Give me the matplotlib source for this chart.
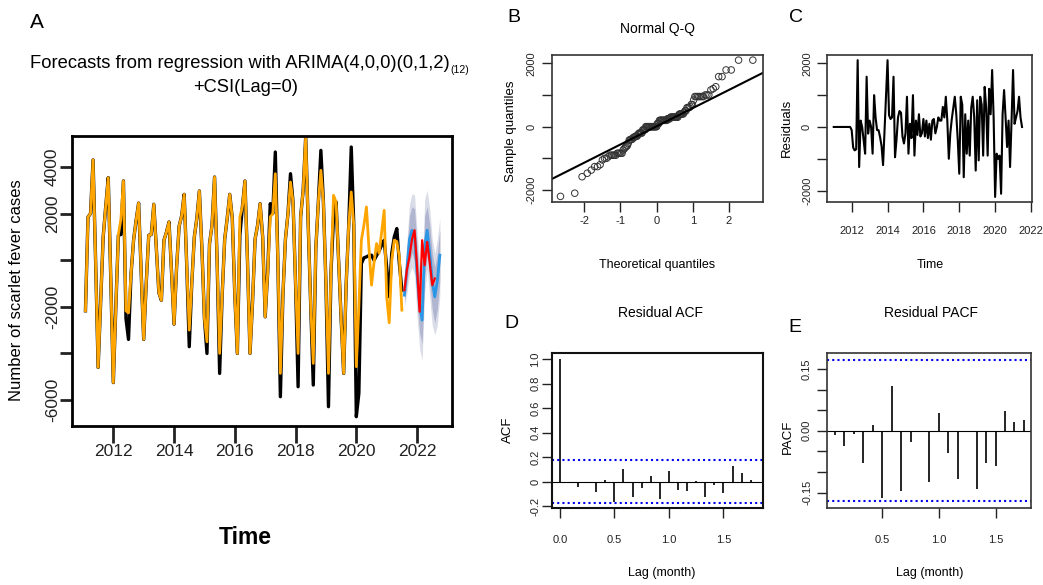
import numpy as np
import matplotlib.pyplot as plt
from statistics import NormalDist

plt.rcParams['font.family'] = ['Liberation Sans Narrow', 'Liberation Sans', 'DejaVu Sans']
plt.rcParams['axes.unicode_minus'] = False

# ---- data ----
start_a = 2011 + 1 / 12
fitted = [-2170, 1850, 2000, 4300, 0, -4600, -1800, 1000, 2300, 3540, -800, -5250,
          -2000, 1100, 1750, 3400, -2170, -2260, -600, 855, 1700, 2450, -500, -3400,
          -1000, 1070, 1100, 2400, 500, -1400, -1720, 855, 1200, 1640, -500, -2744,
          -300, 1455, 1900, 2826, -200, -3000, -1000, 1000, 1800, 2970, 500, -2500,
          -3500, 700, 1500, 3568, 0, -4000, -1500, 900, 1800, 2826, 1800, -1500,
          -4000, 1855, 2300, 3397, 0, -4000, -1800, 900, 1500, 2426, 1000, -2430,
          -500, 1855, 2000, 3711, 0, -4856, -1500, 900, 2000, 3354, 2500, -1000,
          -4000, 1855, 3000, 5282, 1500, -2000, -4428, 500, 2500, 3854, 2500, -1000,
          -4856, -500, 2783, 2500, 0, -2500, -4856, -1000, 1500, 2926, 1500, -4570,
          -2000, 857, 1500, 2284, 500, -1070, -100, 713, 300, 1200, 2141, -1570,
          -2684, 0, 857, 800, 143, -2141]
actual = [-2170, 1850, 2000, 4300, 0, -4600, -1800, 1000, 2300, 3540, -800, -5250,
          -2000, 1070, 1100, 3400, -2500, -3400, -600, 855, 1700, 2450, -500, -3400,
          -1000, 1070, 1100, 2400, 500, -1400, -1720, 855, 1200, 1640, -500, -2744,
          -300, 1455, 1900, 2826, -200, -3710, -1000, 1000, 1800, 2970, 500, -2500,
          -4000, 700, 1500, 3568, 0, -4856, -1500, 900, 1800, 2826, 1800, -1500,
          -4000, 1070, 2300, 3397, 0, -4000, -1800, 900, 1500, 2426, 1000, -2430,
          -500, 2426, 2000, 4640, 0, -5856, -1500, 900, 2000, 3711, 2500, -1000,
          -5428, 1855, 3000, 5282, 1500, -2000, -5356, 500, 2500, 4710, 2500, -1000,
          -6284, -500, 1855, 2500, 0, -2500, -4856, -1000, 1500, 4854, 1500, -6714,
          -5713, -143, 100, 143, 200, 214, 0, 200, 400, 643, 857, -300,
          -1570, 300, 1000, 1357, -143, -1285]

start_f = 2021 + 7 / 12
fc_mean = [-1500, -300, 900, 1285, 1100, -600, -1900, -2570, 600, 1285, 300, -900, -1570, -900, 214]
hi80 = [-1200, 400, 1900, 2300, 2200, 600, -700, -1300, 1900, 2300, 1500, 300, -300, 300, 1300]
lo80 = [-1800, -1000, -100, 300, 0, -1800, -3100, -3600, -700, 200, -900, -2100, -2700, -2100, -900]
hi95 = [-1000, 800, 2400, 2850, 2800, 1200, -100, -600, 2600, 3000, 2200, 900, 300, 900, 1800]
lo95 = [-2000, -1400, -600, -300, -600, -2400, -3800, -4300, -1400, -400, -1600, -2800, -3200, -2800, -1500]
test = [-1285, -400, 143, 900, 1285, -300, -2210, 857, -214, 785, -100, -1070, -785]

start_r = 2011
resid = [0, 0, 0, 0, 0, 0, 0, 0, 0, 0, 0, 0,
         -100, -650, -736, -700, 2100, -1260, 200, 0, -420, -840, 1580, -210,
         200, 0, -840, 1000, 300, -100, -100, -320, -600, -1200, -100, 1000,
         2100, 370, 250, 300, 1580, -950, -400, 300, 500, 450, -300, -520,
         -200, 950, -840, 100, -350, 1000, -900, 200, -250, 400, -300, -200,
         250, -300, 200, -350, 100, -400, 200, 250, -200, 0, 300, 200,
         200, 630, 300, 950, 200, -1000, -200, 250, 600, 950, 400, -420,
         -1470, 950, 700, -1580, 400, -840, 200, -900, 600, 950, 300, -1370,
         840, -1050, 950, 700, -900, 1260, 600, -900, 1200, 400, 1790, 300,
         -2200, -840, -1000, -900, -2100, 400, 1160, 300, -630, 200, -1260, 200,
         1790, 100, 300, 500, 950, 300, 0]

acf_vals = [1.0, -0.014, -0.047, -0.014, -0.088, 0.016, -0.17, 0.104, -0.129, -0.052, 0.044,
            -0.142, 0.085, -0.068, -0.079, 0.005, -0.129, -0.025, -0.096, 0.123, 0.071, 0.016]
pacf_vals = [-0.010, -0.036, -0.007, -0.078, 0.015, -0.163, 0.108, -0.146, -0.026, -0.004, -0.123,
             0.044, -0.053, -0.116, -0.004, -0.141, -0.078, -0.085, 0.047, 0.021, 0.027]

W, H = 1043, 585
fig = plt.figure(figsize=(W / 100, H / 100), dpi=100)


def box(l, t, r, b):
    return [l / W, 1 - b / H, (r - l) / W, (b - t) / H]


def ftxt(x, y, s, **kw):
    kw.setdefault('ha', 'center')
    kw.setdefault('va', 'center')
    return fig.text(x / W, 1 - y / H, s, **kw)


def style(ax, lw=1.2, col='#333333', tl=7, fs=8):
    for sp in ax.spines.values():
        sp.set_linewidth(lw)
        sp.set_color(col)
    ax.tick_params(direction='out', length=tl, width=1, labelsize=fs, colors='#222222')


# ---- A: forecast ----
ax = fig.add_axes(box(72, 136, 452, 426))
ta = start_a + np.arange(len(fitted)) / 12
tf = start_f + np.arange(len(fc_mean)) / 12
tt = start_f + np.arange(len(test)) / 12
ax.fill_between(tf, lo95, hi95, color='#DADCE8', lw=0)
ax.fill_between(tf, lo80, hi80, color='#B0B5D0', lw=0)
ax.plot(ta, actual, color='black', lw=2.4)
ax.plot(ta, fitted, color='#FFA500', lw=2.0)
ax.plot(tf, fc_mean, color='#2A96E6', lw=2.0)
ax.plot(tt, test, color='#FF0000', lw=1.6)
ax.set_xlim(2010.64, 2023.15)
ax.set_ylim(-7113, 5328)
ax.set_xticks([2012, 2014, 2016, 2018, 2020, 2022])
ax.set_yticks([4000, 2000, 0, -2000, -4000, -6000])
ax.set_yticklabels(['4000', '2000', '', '-2000', '', '-6000'], rotation=90, va='center')
style(ax, lw=2.0, col='black', tl=8.6, fs=12.5)
ax.tick_params(axis='x', length=12, width=2, pad=1)
ax.tick_params(axis='y', width=2, pad=0)

ftxt(37, 23, 'A', fontsize=15)
t1 = ftxt(30, 63, 'Forecasts from regression with ARIMA(4,0,0)(0,1,2)', ha='left', fontsize=13.2)
fig.canvas.draw()
bb = t1.get_window_extent()
fig.text(bb.x1 / W + 0.001, 1 - 70 / H, '(12)', fontsize=7.5, ha='left', va='center')
ftxt(246, 87, '+CSI(Lag=0)', fontsize=13.2)
ftxt(17, 290, 'Number of scarlet fever cases', rotation=90, fontsize=12)
ftxt(245, 538, 'Time', fontsize=16.5, fontweight='bold')

# ---- B: normal QQ ----
ax = fig.add_axes(box(551.7, 55, 762.7, 201.7))
n = len(resid)
p = (np.arange(1, n + 1) - 0.5) / n
nd = NormalDist()
theo = np.array([nd.inv_cdf(v) for v in p])
samp = np.sort(resid)
ax.scatter(theo, samp, s=22, facecolors='none', edgecolors='#333333', linewidths=0.7)
q1, q3 = np.percentile(resid, [25, 75])
z1, z3 = nd.inv_cdf(0.25), nd.inv_cdf(0.75)
slope = (q3 - q1) / (z3 - z1)
icpt = q1 - slope * z1
xl = np.array([-2.9, 2.93])
ax.plot(xl, icpt + slope * xl, color='black', lw=1.5)
ax.set_xlim(-2.9, 2.93)
ax.set_ylim(-2368, 2262)
ax.set_xticks([-2, -1, 0, 1, 2])
ax.set_yticks([-2000, -1000, 0, 1000, 2000])
ax.set_yticklabels(['-2000', '', '0', '', '2000'], rotation=90, va='center')
style(ax)
ax.tick_params(axis='x', pad=3)
ax.tick_params(axis='y', pad=4)
ftxt(514, 18, 'B', fontsize=14)
ftxt(657, 29, 'Normal Q-Q', fontsize=10)
ftxt(511, 131, 'Sample quantiles', rotation=90, fontsize=9.5)
ftxt(657, 265, 'Theoretical quantiles', fontsize=9)

# ---- C: residuals ----
ax = fig.add_axes(box(827.3, 55, 1031.7, 202.3))
tr = start_r + np.arange(len(resid)) / 12
ax.plot(tr, resid, color='black', lw=1.5)
ax.set_xlim(2010.64, 2022.04)
ax.set_ylim(-2368, 2262)
ax.set_xticks([2012, 2014, 2016, 2018, 2020, 2022])
ax.set_yticks([-2000, -1000, 0, 1000, 2000])
ax.set_yticklabels(['-2000', '', '0', '', '2000'], rotation=90, va='center')
style(ax)
ax.tick_params(axis='x', pad=10)
ax.tick_params(axis='y', pad=4)
ftxt(796, 18, 'C', fontsize=14)
ftxt(787, 128, 'Residuals', rotation=90, fontsize=9.5)
ftxt(930, 265, 'Time', fontsize=9)

# ---- D: ACF ----
ax = fig.add_axes(box(551.7, 353.3, 762.7, 508.3))
lags = np.arange(len(acf_vals)) / 12
ax.vlines(lags, 0, acf_vals, color='black', lw=1.2)
ax.axhline(0, color='black', lw=0.8)
ci = 0.174
for c in (ci, -ci):
    ax.axhline(c, color='#0000EE', lw=1.5, ls=(0, (1, 1.5)))
ax.set_xlim(-0.075, 1.86)
ax.set_ylim(-0.219, 1.049)
ax.set_xticks([0, 0.5, 1.0, 1.5])
ax.set_xticklabels(['0.0', '0.5', '1.0', '1.5'])
ax.set_yticks([-0.2, 0, 0.2, 0.4, 0.6, 0.8, 1.0])
ax.set_yticklabels(['-0.2', '0', '0.2', '0.4', '0.6', '0.8', '1.0'], rotation=90, va='center')
style(ax, lw=1.5, col='#111111')
ax.tick_params(axis='x', pad=12)
ax.tick_params(axis='y', pad=1)
ftxt(511, 324, 'D', fontsize=14)
ftxt(660, 313, 'Residual ACF', fontsize=10)
ftxt(508, 430, 'ACF', rotation=90, fontsize=9.5)
ftxt(662, 573, 'Lag (month)', fontsize=9)

# ---- E: PACF ----
ax = fig.add_axes(box(827.3, 353.3, 1030.7, 508.3))
plags = np.arange(1, len(pacf_vals) + 1) / 12
ax.vlines(plags, 0, pacf_vals, color='black', lw=1.2)
ax.axhline(0, color='black', lw=0.8)
for c in (0.172, -0.171):
    ax.axhline(c, color='#0000EE', lw=1.5, ls=(0, (1, 1.5)))
ax.set_xlim(0.015, 1.81)
ax.set_ylim(-0.188, 0.188)
ax.set_xticks([0.5, 1.0, 1.5])
ax.set_xticklabels(['0.5', '1.0', '1.5'])
ax.set_yticks([-0.15, -0.10, -0.05, 0, 0.05, 0.10, 0.15])
ax.set_yticklabels(['-0.15', '', '', '0.00', '', '', '0.15'], rotation=90, va='center')
style(ax)
ax.tick_params(axis='x', pad=12)
ax.tick_params(axis='y', pad=4)
ftxt(795, 327, 'E', fontsize=14)
ftxt(931, 313, 'Residual PACF', fontsize=10)
ftxt(788, 437, 'PACF', rotation=90, fontsize=9.5)
ftxt(930, 573, 'Lag (month)', fontsize=9)

fig.savefig('out.png', dpi=100)
